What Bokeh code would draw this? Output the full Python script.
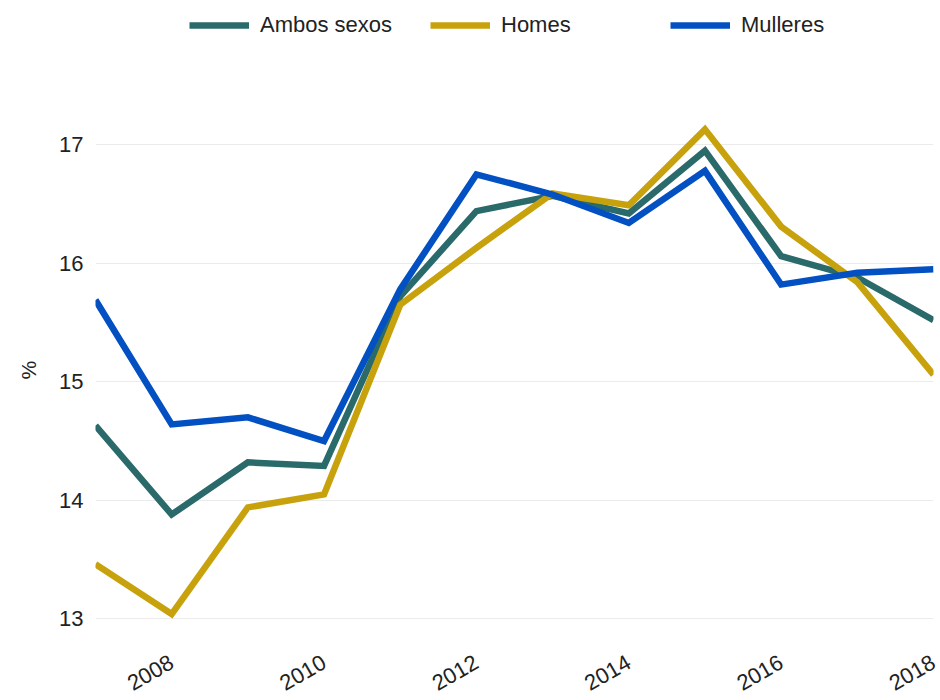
from bokeh.plotting import figure
from bokeh.models import Legend, LegendItem, FixedTicker, Range1d, Title
from bokeh.embed import file_html
from bokeh.resources import INLINE

years = [2007, 2008, 2009, 2010, 2011, 2012, 2013, 2014, 2015, 2016, 2017, 2018]
ambos = [14.63, 13.88, 14.32, 14.29, 15.72, 16.44, 16.57, 16.42, 16.95, 16.06, 15.88, 15.52]
homes = [13.46, 13.04, 13.94, 14.05, 15.65, 16.13, 16.59, 16.49, 17.13, 16.31, 15.84, 15.06]
mulleres = [15.69, 14.64, 14.70, 14.50, 15.78, 16.75, 16.58, 16.34, 16.78, 15.82, 15.92, 15.95]
x_ticks = [2008, 2010, 2012, 2014, 2016, 2018]
y_ticks = [13, 14, 15, 16, 17]
series_names = ["Ambos sexos", "Homes", "Mulleres"]
colors = ["#2a6a6a", "#c8a20c", "#0350c2"]

FONT = "Liberation Sans"
TXT = "#222222"

p = figure(frame_width=838, frame_height=637, output_backend="svg", toolbar_location=None,
           x_range=Range1d(2007, 2018), y_range=Range1d(12.8, 18.175),
           min_border_left=95, min_border_right=7, min_border_top=5, min_border_bottom=40)
p.outline_line_color = None
p.background_fill_color = "white"
p.border_fill_color = "white"

renderers = []
for vals, col in zip([ambos, homes, mulleres], colors):
    renderers.append(p.line(years, vals, line_color=col, line_width=6.5, line_join="miter"))

# axes
p.xaxis.ticker = FixedTicker(ticks=x_ticks)
p.yaxis.ticker = FixedTicker(ticks=y_ticks)
for ax in (p.xaxis[0], p.yaxis[0]):
    ax.axis_line_color = None
    ax.major_tick_line_color = None
    ax.minor_tick_line_color = None
    ax.major_tick_out = 0
    ax.major_tick_in = 0
    ax.major_label_text_font = FONT
    ax.major_label_text_color = TXT
p.xaxis.major_label_text_font_size = "22px"
p.xaxis.major_label_orientation = 0.52
p.xaxis.major_label_standoff = 18
p.yaxis.major_label_text_font_size = "22px"
p.yaxis.major_label_standoff = 12

p.add_layout(Title(text="%", align="left", offset=263, standoff=29, vertical_align="top",
                   text_font=FONT, text_font_size="21px", text_font_style="normal",
                   text_color=TXT), "left")

p.xgrid.grid_line_color = None
p.ygrid.grid_line_color = "#ebebeb"
p.ygrid.grid_line_width = 1

# legends (separate, placed in the top of the frame)
leg_x = [94, 335, 575]
for name, r, lx in zip(series_names, renderers, leg_x):
    leg = Legend(items=[LegendItem(label=name, renderers=[r])], location=(lx, 604),
                 orientation="horizontal", glyph_width=60, glyph_height=24,
                 label_standoff=11, padding=0, margin=0, border_line_color=None,
                 background_fill_alpha=0, label_text_font=FONT,
                 label_text_font_size="22px", label_text_color=TXT)
    p.add_layout(leg, "center")

open("out.html", "w").write(file_html(p, INLINE))
